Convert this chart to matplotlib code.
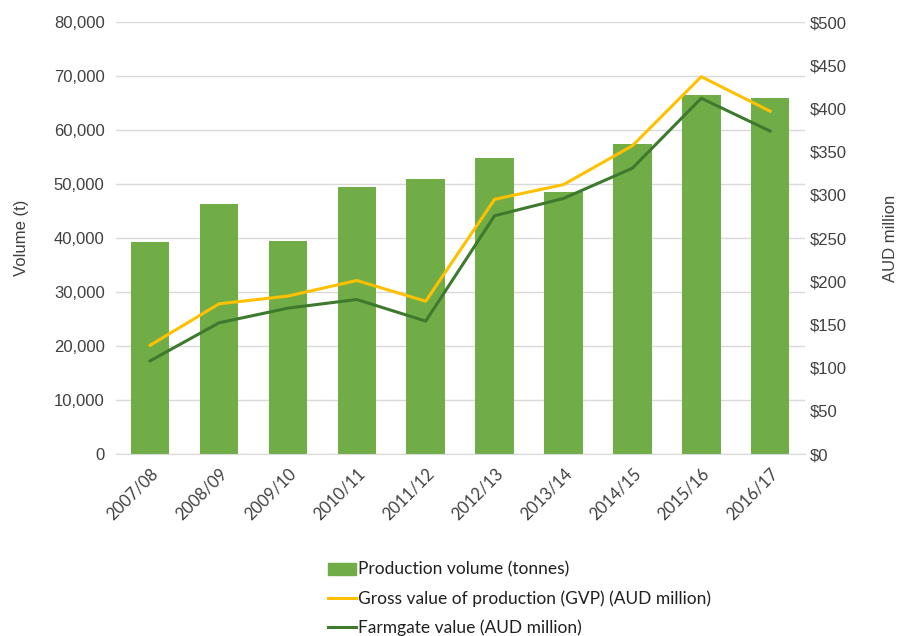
import matplotlib
matplotlib.use("Agg")
import matplotlib.pyplot as plt
from matplotlib.ticker import FuncFormatter, MultipleLocator
from matplotlib.lines import Line2D
from matplotlib.patches import Patch

years = ["2007/08", "2008/09", "2009/10", "2010/11", "2011/12",
         "2012/13", "2013/14", "2014/15", "2015/16", "2016/17"]
volume = [39300, 46300, 39400, 49400, 50900, 54800, 48500, 57400, 66600, 65900]
gvp = [126, 174, 183, 201, 177, 295, 312, 357, 437, 397]
farmgate = [108, 152, 169, 179, 154, 276, 296, 331, 412, 374]

bar_color = "#70AD47"
gvp_color = "#FFC000"
farm_color = "#3E7A2E"
text_color = "#404040"

plt.rcParams['font.family'] = ['Liberation Sans', 'DejaVu Sans']

fig = plt.figure(figsize=(9.04, 6.36), dpi=100)
ax = fig.add_axes([0.128, 0.286, 0.762, 0.679])
ax2 = ax.twinx()

x = list(range(len(years)))
ax.bar(x, volume, width=0.56, color=bar_color, zorder=2)
ax2.plot(x, gvp, color=gvp_color, lw=2.2, zorder=3)
ax2.plot(x, farmgate, color=farm_color, lw=2.2, zorder=3)

ax.set_xlim(-0.5, len(years) - 0.5)
ax.set_ylim(0, 80000)
ax2.set_ylim(0, 500)
ax.yaxis.set_major_locator(MultipleLocator(10000))
ax2.yaxis.set_major_locator(MultipleLocator(50))
ax.yaxis.set_major_formatter(FuncFormatter(lambda v, p: f"{int(v):,}"))
ax2.yaxis.set_major_formatter(FuncFormatter(lambda v, p: f"${int(v)}"))

ax.grid(axis='y', color="#d9d9d9", lw=1, zorder=0)
ax.set_axisbelow(True)
for a in (ax, ax2):
    for s in a.spines.values():
        s.set_visible(False)
ax.spines['bottom'].set_visible(True)
ax.spines['bottom'].set_color("#d9d9d9")

ax.set_xticks(x)
ax.set_xticklabels(years, rotation=45, ha='right', rotation_mode='anchor',
                   fontsize=12, color=text_color, family=['Lato', 'DejaVu Sans'])
ax.tick_params(axis='x', length=0, pad=8)
ax.tick_params(axis='y', length=0, labelsize=12, labelcolor=text_color, pad=8)
ax2.tick_params(axis='y', length=0, labelsize=12, labelcolor=text_color, pad=4)

ax.set_ylabel("Volume (t)", fontsize=12, color=text_color, labelpad=18)
ax2.set_ylabel("AUD million", fontsize=12, color=text_color, labelpad=26)

handles = [Patch(color=bar_color),
           Line2D([0], [0], color=gvp_color, lw=2.2),
           Line2D([0], [0], color=farm_color, lw=2.2)]
labels = ["Production volume (tonnes)",
          "Gross value of production (GVP) (AUD million)",
          "Farmgate value (AUD million)"]
fig.legend(handles, labels, loc='upper left', bbox_to_anchor=(0.355, 0.128),
           frameon=False, ncol=1, handlelength=1.6, handletextpad=0.15,
           labelspacing=0.72, prop={'family': ['Lato', 'DejaVu Sans'], 'size': 12.5},
           labelcolor="#202020", borderaxespad=0)

fig.savefig("out.png", dpi=100, facecolor="white")
